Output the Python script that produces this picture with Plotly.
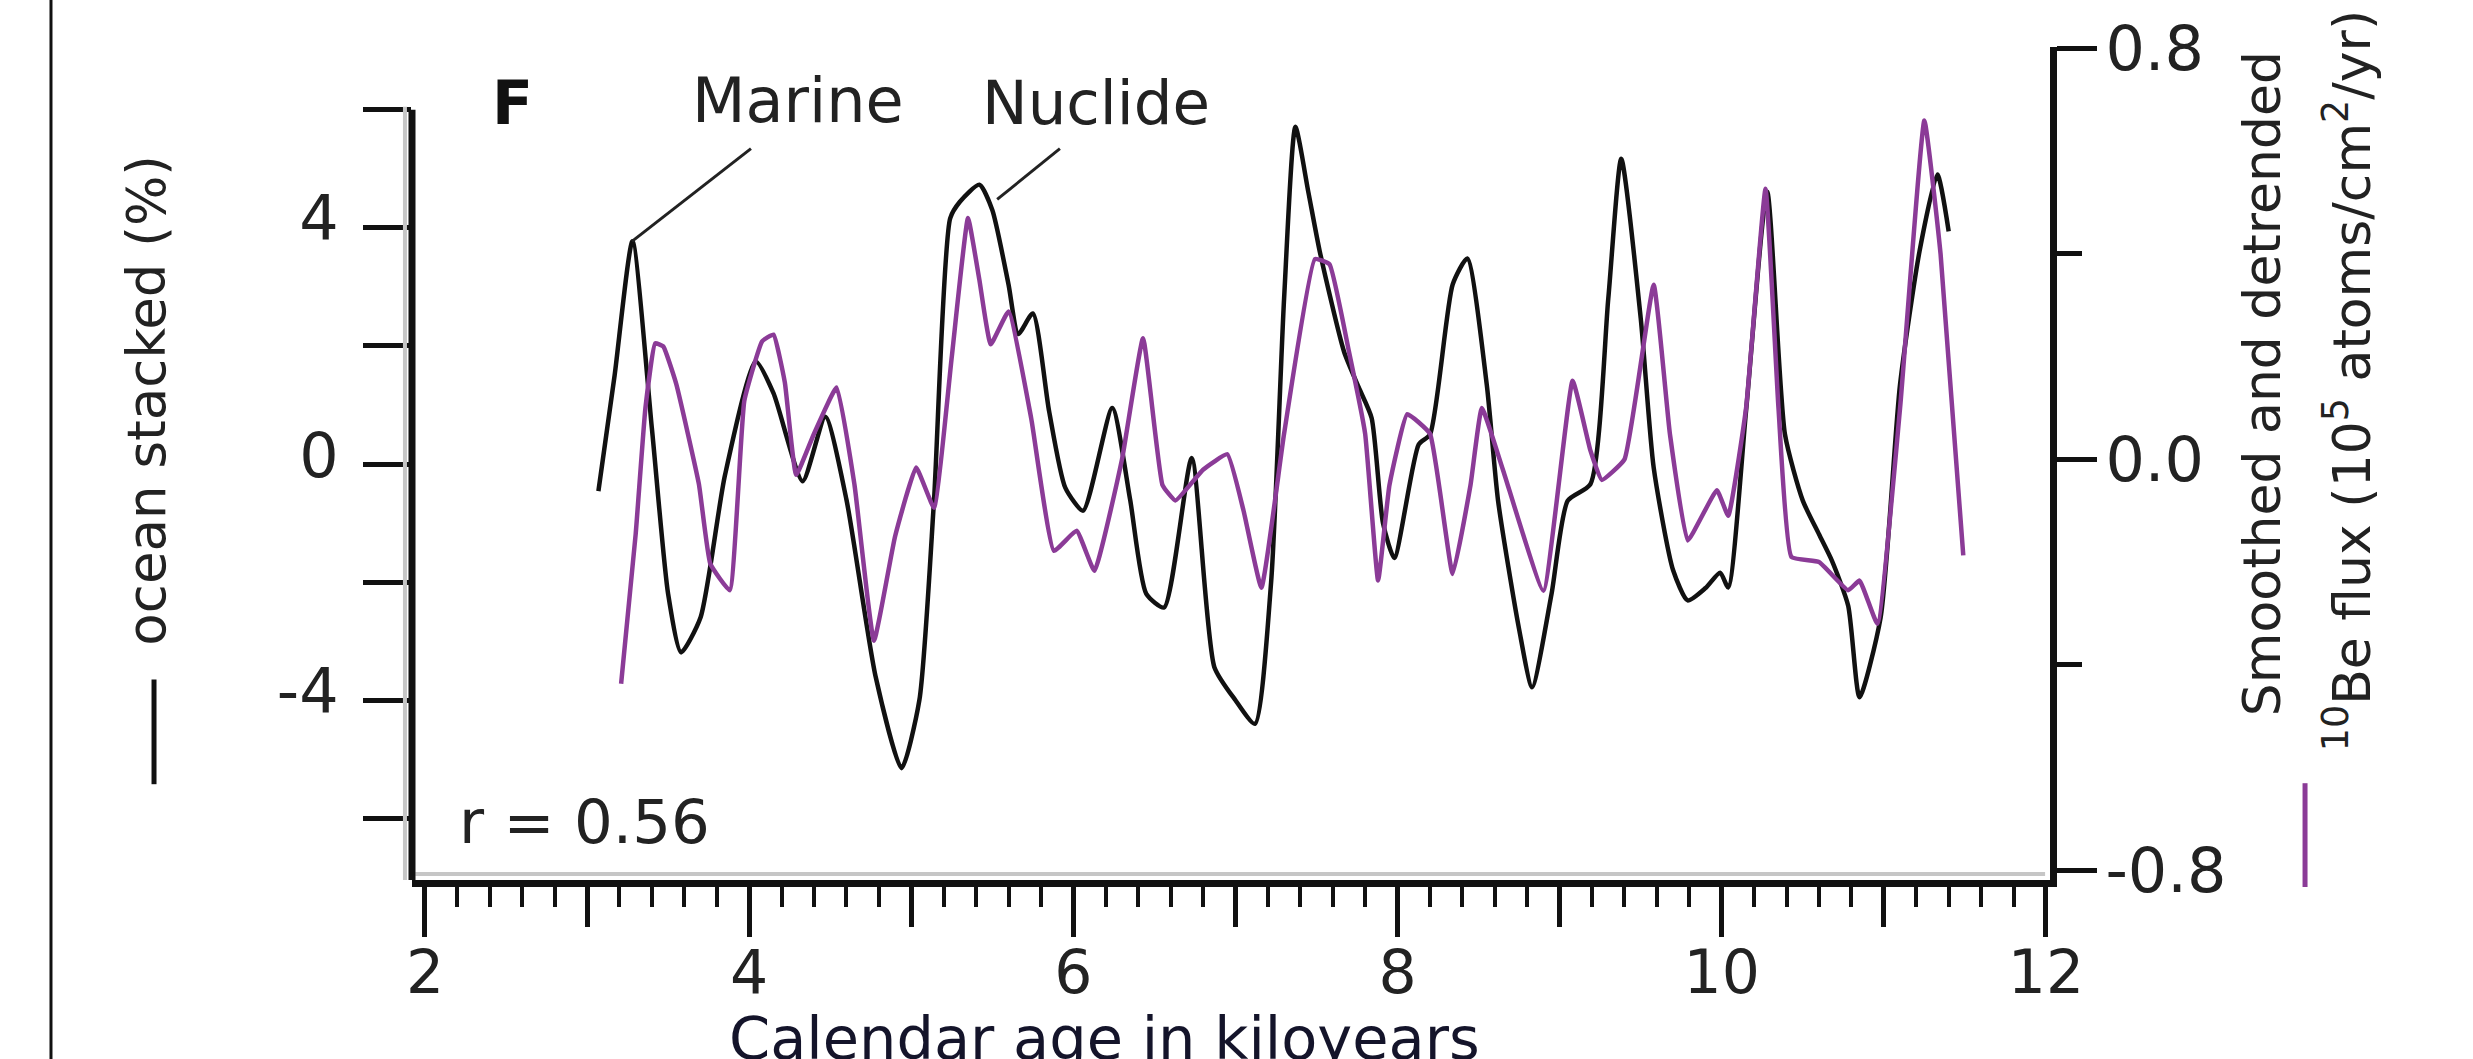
import plotly.graph_objects as go

# Marine record (left axis, %), calendar age in kyr
marine_age = [3.07, 3.17, 3.28, 3.40, 3.50, 3.58, 3.70, 3.85, 4.04, 4.15, 4.33, 4.47,
              4.60, 4.78, 4.94, 5.05, 5.14, 5.24, 5.30, 5.42, 5.50, 5.60, 5.66, 5.75,
              5.85, 5.95, 6.06, 6.24, 6.35, 6.45, 6.56, 6.73, 6.87, 7.00, 7.12, 7.22,
              7.30, 7.37, 7.45, 7.52, 7.67, 7.76, 7.84, 7.91, 7.98, 8.13, 8.20, 8.34,
              8.43, 8.55, 8.62, 8.75, 8.83, 8.95, 9.05, 9.19, 9.30, 9.38, 9.50, 9.58,
              9.70, 9.79, 9.90, 9.99, 10.04, 10.15, 10.28, 10.39, 10.50, 10.60, 10.68,
              10.78, 10.85, 10.98, 11.10, 11.22, 11.33, 11.40]
marine_val = [-0.46, 1.5, 3.77, 0.6, -2.2, -3.19, -2.6, -0.2, 1.74, 1.2, -0.29, 0.8,
              -0.6, -3.6, -5.15, -4.0, -0.63, 4.16, 4.44, 4.73, 4.3, 3.04, 2.2, 2.55,
              0.9, -0.4, -0.79, 0.95, -0.6, -2.2, -2.43, 0.1, -3.44, -4.0, -4.4, -2.0,
              2.8, 5.71, 4.6, 3.6, 1.9, 1.3, 0.78, -1.0, -1.59, 0.33, 0.5, 3.04,
              3.48, 1.35, -0.62, -2.8, -3.78, -2.2, -0.62, -0.34, 2.8, 5.17, 2.47, -0.06,
              -1.8, -2.31, -2.1, -1.84, -2.09, 0.9, 4.61, 0.5, -0.62, -1.19, -1.64,
              -2.4, -3.95, -2.6, 1.35, 3.6, 4.9, 3.94]

# Smoothed and detrended 10Be flux (right axis)
be_age = [3.21, 3.30, 3.36, 3.42, 3.47, 3.55, 3.69, 3.76, 3.88, 3.97, 4.08, 4.15,
          4.22, 4.29, 4.40, 4.54, 4.65, 4.77, 4.90, 5.03, 5.14, 5.25, 5.35, 5.42,
          5.49, 5.60, 5.74, 5.88, 6.02, 6.13, 6.30, 6.43, 6.55, 6.63, 6.80, 6.95,
          7.05, 7.16, 7.30, 7.49, 7.58, 7.70, 7.80, 7.88, 7.95, 8.06, 8.20, 8.34,
          8.45, 8.52, 8.65, 8.90, 9.08, 9.19, 9.26, 9.40, 9.58, 9.68, 9.79, 9.97,
          10.04, 10.15, 10.27, 10.35, 10.43, 10.60, 10.78, 10.85, 10.96, 11.10,
          11.25, 11.35, 11.49]
be_val = [-0.437, -0.145, 0.10, 0.226, 0.22, 0.147, -0.048, -0.203, -0.255, 0.114, 0.23, 0.243,
          0.15, -0.03, 0.05, 0.14, -0.05, -0.353, -0.15, -0.016, -0.094, 0.20, 0.47, 0.35,
          0.224, 0.288, 0.08, -0.178, -0.139, -0.217, 0.0, 0.236, -0.05, -0.08, -0.02, 0.01,
          -0.10, -0.25, 0.05, 0.39, 0.38, 0.21, 0.05, -0.236, -0.05, 0.088, 0.05, -0.223,
          -0.05, 0.10, -0.02, -0.256, 0.153, 0.017, -0.04, 0.0, 0.34, 0.05, -0.158, -0.06,
          -0.11, 0.10, 0.527, 0.10, -0.19, -0.20, -0.255, -0.236, -0.32, 0.10,
          0.66, 0.40, -0.187]

left_tick_vals = [-6, -4, -2, 0, 2, 4, 6]
left_tick_text = ["", "-4", "", "0", "", "4", ""]
right_tick_vals = [-0.8, 0.0, 0.8]
right_tick_text = ["-0.8", "0.0", "0.8"]
right_minor_vals = [-0.4, 0.4]
x_major_vals = [2, 4, 6, 8, 10, 12]
x_major_text = ["2", "4", "6", "8", "10", "12"]

X_RANGE = [1.92, 12.025]
LEFT_RANGE = [-7.044, 7.061]
RIGHT_RANGE = [-0.819, 0.803]

FONT = "DejaVu Sans, Arial, sans-serif"
BLACK = "#111111"
TEXT = "#222222"
PURPLE = "#8b3b97"
HALO = "#c6c6c6"

fig = go.Figure()

fig.add_trace(go.Scatter(
    x=be_age, y=be_val, yaxis="y2", mode="lines",
    line=dict(color=PURPLE, width=4.5, shape="spline", smoothing=0.35),
    showlegend=False, hoverinfo="skip"))
fig.add_trace(go.Scatter(
    x=marine_age, y=marine_val, mode="lines",
    line=dict(color=BLACK, width=4.5, shape="spline", smoothing=0.6),
    showlegend=False, hoverinfo="skip"))
# invisible trace carrying the labelled major ticks of the age axis
fig.add_trace(go.Scatter(x=[X_RANGE[0]], y=[0], xaxis="x2", mode="markers",
                         marker=dict(opacity=0), showlegend=False, hoverinfo="skip"))

fig.update_layout(
    width=2473, height=1059,
    margin=dict(l=412, r=423, t=45, b=179),
    paper_bgcolor="white", plot_bgcolor="white",
    font=dict(family=FONT, size=60, color=BLACK),
    xaxis=dict(range=X_RANGE, showgrid=False, zeroline=False,
               showline=True, linewidth=7, linecolor=BLACK,
               tickmode="linear", tick0=2, dtick=1, ticks="outside",
               ticklen=40, tickwidth=5, tickcolor=BLACK, showticklabels=False,
               minor=dict(tick0=2, dtick=0.2, ticks="outside", ticklen=20,
                          tickwidth=4, tickcolor=BLACK)),
    xaxis2=dict(range=X_RANGE, overlaying="x", side="bottom", anchor="y",
                showgrid=False, zeroline=False, showline=False,
                tickmode="array", tickvals=x_major_vals, ticktext=x_major_text,
                ticks="outside", ticklen=56, tickwidth=5, tickcolor=BLACK,
                ticklabelstandoff=-16,
                tickfont=dict(family=FONT, size=60, color=TEXT)),
    yaxis=dict(range=LEFT_RANGE, showgrid=False, zeroline=False, showline=False,
               tickmode="array", tickvals=left_tick_vals, ticktext=left_tick_text,
               ticks="outside", ticklen=48, tickwidth=5, tickcolor=BLACK,
               ticklabelstandoff=12, ticklabelshift=-9,
               tickfont=dict(family=FONT, size=62, color=TEXT)),
    yaxis2=dict(range=RIGHT_RANGE, overlaying="y", side="right",
                showgrid=False, zeroline=False, showline=True, linewidth=7,
                linecolor=BLACK, tickmode="array", tickvals=right_tick_vals,
                ticktext=right_tick_text, ticks="outside", ticklen=40,
                tickwidth=5, tickcolor=BLACK, ticklabelstandoff=-4,
                minor=dict(tickmode="array", tickvals=right_minor_vals,
                           ticks="outside", ticklen=25, tickwidth=5, tickcolor=BLACK),
                tickfont=dict(family=FONT, size=62, color=TEXT)),
)

shapes = []
# soft grey shading that runs beside the heavy axis rules
shapes.append(dict(type="line", xref="paper", yref="paper", x0=0.002, x1=0.997,
                   y0=0.0072, y1=0.0072, line=dict(color=HALO, width=4), layer="below"))
shapes.append(dict(type="line", xref="paper", yref="y", x0=-0.0043, x1=-0.0043,
                   y0=LEFT_RANGE[0], y1=6.05, line=dict(color=HALO, width=4)))
# left axis spine, drawn only up to the top tick at 6
shapes.append(dict(type="line", xref="paper", yref="y", x0=0, x1=0,
                   y0=LEFT_RANGE[0], y1=6, line=dict(color=BLACK, width=7)))
# border rule at far left of the panel
shapes.append(dict(type="line", xref="paper", yref="paper", x0=-0.2204, x1=-0.2204,
                   y0=-1, y1=2, line=dict(color=BLACK, width=3)))
# leader lines for the series labels
shapes.append(dict(type="line", xref="x", yref="y", x0=4.011, y0=5.34, x1=3.277, y1=3.77,
                   line=dict(color=TEXT, width=3)))
shapes.append(dict(type="line", xref="x", yref="y", x0=5.917, y0=5.34, x1=5.53, y1=4.48,
                   line=dict(color=TEXT, width=3)))
# line-style keys beside the rotated axis titles
shapes.append(dict(type="line", xref="paper", yref="paper",
                   x0=-0.1575, x1=-0.1575, y0=0.115, y1=0.2407,
                   line=dict(color=BLACK, width=5)))
shapes.append(dict(type="line", xref="paper", yref="paper",
                   x0=1.1557, x1=1.1557, y0=-0.0084, y1=0.1162,
                   line=dict(color=PURPLE, width=5)))
fig.update_layout(shapes=shapes)

ann = []
ann.append(dict(text="<b>F</b>", xref="x", yref="y", x=2.54, y=6.12, showarrow=False,
                xanchor="center", yanchor="middle", font=dict(size=60, color=BLACK)))
ann.append(dict(text="Marine", xref="x", yref="y", x=4.304, y=6.15, showarrow=False,
                xanchor="center", yanchor="middle", font=dict(size=62, color=TEXT)))
ann.append(dict(text="Nuclide", xref="x", yref="y", x=6.14, y=6.12, showarrow=False,
                xanchor="center", yanchor="middle", font=dict(size=61, color=TEXT)))
ann.append(dict(text="r = 0.56", xref="x", yref="y", x=2.20, y=-6.06, xanchor="left",
                yanchor="middle", showarrow=False, font=dict(size=61, color=TEXT)))
ann.append(dict(text="ocean stacked (%)", xref="paper", yref="paper",
                x=-0.1618, y=0.5766, xanchor="center", yanchor="middle",
                textangle=-90, showarrow=False, font=dict(size=53, color=TEXT)))
ann.append(dict(text="Smoothed and detrended", xref="paper", yref="paper",
                x=1.1294, y=0.5964, xanchor="center", yanchor="middle",
                textangle=-90, showarrow=False, font=dict(size=52, color=TEXT)))
ann.append(dict(text="<sup>10</sup>Be flux (10<sup>5</sup> atoms/cm<sup>2</sup>/yr)",
                xref="paper", yref="paper", x=1.182, y=0.599, xanchor="center",
                yanchor="middle", textangle=-90, showarrow=False,
                font=dict(size=52, color=TEXT)))
ann.append(dict(text="Calendar age in kiloyears", xref="paper", yref="paper",
                x=0.4225, y=-0.147, xanchor="center", yanchor="top", showarrow=False,
                font=dict(size=59, color="#14142a")))
fig.update_layout(annotations=ann)

fig.write_html("out.html")
